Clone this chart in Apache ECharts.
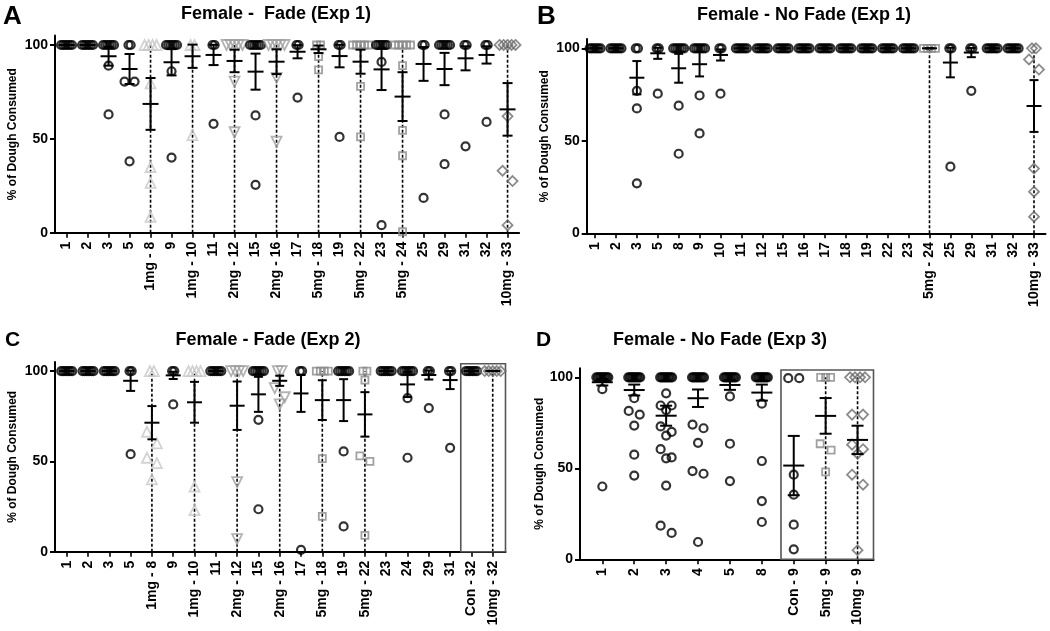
<!DOCTYPE html>
<html><head><meta charset="utf-8">
<script src="https://cdn.jsdelivr.net/npm/echarts@6/dist/echarts.min.js"></script>
<style>html,body{margin:0;padding:0;background:#fff}#c{width:1050px;height:631px}</style>
</head><body><div id="c"></div>
<script>
// ---------------- Panel A : Female - Fade (Exp 1)
const aCategories = ['1','2','3','5','1mg - 8','9','1mg - 10','11','2mg - 12','15','2mg - 16','17','5mg - 18','19','5mg - 22','23','5mg - 24','25','29','31','32','10mg - 33'];
const aPoints = [
  [100,100,100,100,100,100],
  [100,100,100,100,100,100],
  [100,100,100,100,100,100,89,63],
  [100,100,80.5,80.5,38],
  [100,100,100,100,79.5,35,26.5,8.5],
  [100,100,100,100,100,100,86,40],
  [100,100,52],
  [100,100,58],
  [100,100,100,100,100,80.5,53.5],
  [100,100,100,100,100,100,62.5,25.5],
  [100,100,100,100,100,82.5,48.5],
  [100,100,72],
  [100,100,93.8,86.7],
  [100,100,51],
  [100,100,100,100,100,78,51],
  [100,100,100,100,100,100,91,4],
  [100,100,100,100,100,89,54.5,41,0.5],
  [100,100,18.5],
  [100,100,100,100,100,100,63,36.5],
  [100,100,46],
  [100,100,59],
  [100,100,100,100,100,62,33,27.5,4]
];
const aMean = [100,100,94,87.2,68.6,90.8,94,94.7,91.5,85.8,91.1,96.4,97.7,94.1,91.1,87,72.5,89.9,87.2,92.9,94.7,65.7];
const aSem  = [0,0,5,8,13.8,7,6.2,5.4,6,9.6,6.6,3.5,2,6,6.4,11,13,9,8.6,6.4,4.6,14];

// ---------------- Panel B : Female - No Fade (Exp 1)
const bCategories = ['1','2','3','5','8','9','10','11','12','15','16','17','18','19','22','23','5mg - 24','25','29','31','32','10mg - 33'];
const bPoints = [
  [100,100,100,100,100,100],
  [100,100,100,100,100,100],
  [100,100,77,67.5,27],
  [100,100,75.5],
  [100,100,100,100,100,100,69,43],
  [100,100,100,100,100,100,74.5,54],
  [100,100,75.5],
  [100,100,100,100,100,100],
  [100,100,100,100,100,100],
  [100,100,100,100,100,100],
  [100,100,100,100,100,100],
  [100,100,100,100,100,100],
  [100,100,100,100,100,100],
  [100,100,100,100,100,100],
  [100,100,100,100,100,100],
  [100,100,100,100,100,100],
  [100,100,100,100],
  [100,100,36],
  [100,100,77],
  [100,100,100,100,100,100],
  [100,100,100,100,100,100],
  [100,100,94,88.5,35,22.5,9]
];
const bMean = [100,100,84.1,97.3,89.2,91.4,96.4,100,100,100,100,100,100,100,100,100,100,92.3,97.7,100,100,68.8];
const bSem  = [0,0,9,3,7.8,6.6,3,0,0,0,0,0,0,0,0,0,0,8,2.5,0,0,14];

// ---------------- Panel C : Female - Fade (Exp 2)
const cCategories = ['1','2','3','5','1mg - 8','9','1mg - 10','11','2mg - 12','15','2mg - 16','17','5mg - 18','19','5mg - 22','23','24','29','31','Con - 32','10mg - 32'];
const cPoints = [
  [100,100,100,100,100,100],
  [100,100,100,100,100,100],
  [100,100,100,100,100,100],
  [100,100,54],
  [100,100,66.4,60,52,49,40],
  [100,100,81.5],
  [100,100,100,100,36,23],
  [100,100,100,100,100,100],
  [100,100,100,100,38.5,7],
  [100,100,100,100,100,100,73,23.5],
  [100,100,90.5,85.5,81.5],
  [100,100,1],
  [100,100,100,100,51.5,19.5],
  [100,100,100,100,100,100,55.5,14],
  [100,100,95,53,50,9],
  [100,100,100,100,100,100],
  [100,100,100,100,100,100,85,52],
  [100,100,79.5],
  [100,100,57.5],
  [100,100,100,100,100,100],
  [100,100,100,100,100]
];
const cMean = [100,100,100,94.6,71.4,97.6,82.7,100,80.8,87.1,94.6,87.6,83.9,83.9,76,100,92.6,97.8,95,100,100];
const cSem  = [0,0,0,5.6,9.2,2,11.3,0,13.4,9.7,2.8,10.2,11,11.6,12.3,0,7,2.5,5,0,0];

// ---------------- Panel D : Female - No Fade (Exp 3)
const dCategories = ['1','2','3','4','5','8','Con - 9','5mg - 9','10mg - 9'];
const dPoints = [
  [100,100,100,100,100,100,100,100,100,93.5,40],
  [100,100,100,100,100,100,100,100,100,88.5,81.5,79.5,73.5,57.5,46],
  [100,100,100,100,100,100,100,100,100,91.2,84.5,84.5,82,73,70,68,60.5,56,55.5,40.5,18.5,14.5],
  [100,100,100,100,100,100,100,100,100,74,72,64,48.5,47,9.5],
  [100,100,100,100,100,100,100,100,100,89.5,63.5,43],
  [100,100,100,100,100,100,100,100,100,85.5,54,32,20.5],
  [99.5,99.5,46.5,35.5,19,5.5],
  [100,100,100,63.5,60,48],
  [100,100,100,100,79.5,79.5,63,60.5,58,46.5,41,5]
];
const dMean = [97.3,93,78.9,88.5,95.8,91.6,51.5,78.8,65.6];
const dSem  = [1.8,3,5.5,4.8,2.7,4.4,16.3,9.8,7.8];

const yTicks = [0,50,100];

// ---------------- layout / style
const FONT = '"Liberation Sans", Arial, Helvetica, sans-serif';
const panels = [
  {cats:aCategories, pts:aPoints, mean:aMean, sem:aSem, grid:{left:55,top:35.6,width:464.1,height:197.1}, xmin:-0.55, xmax:21.55, a:5, t:2.2, tg:4, mh:8, ch:5, gap:36, box:null},
  {cats:bCategories, pts:bPoints, mean:bMean, sem:bSem, grid:{left:586.7,top:39.05,width:458.8,height:194.25}, xmin:-0.4, xmax:21.55, a:5, t:2.2, tg:4, mh:7.5, ch:4.5, gap:36, box:null},
  {cats:cCategories, pts:cPoints, mean:cMean, sem:cSem, grid:{left:55,top:362,width:450.5,height:189.7}, xmin:-0.55, xmax:20.6, a:5, t:2.2, tg:4, mh:7.5, ch:4.5, gap:36, box:[18.5,20.6,104]},
  {cats:dCategories, pts:dPoints, mean:dMean, sem:dSem, grid:{left:580,top:368.2,width:293.5,height:191.1}, xmin:-0.7, xmax:8.5, a:5.5, t:1.5, tg:5, mh:10.5, ch:6, gap:28, box:[5.6,8.5,104]}
];

function markerFor(name){
  if (name.indexOf('10mg') === 0) return {symbol:'diamond', size:10, color:'#6e6e6e', bw:1.8, gray:true};
  if (name.indexOf('5mg') === 0)  return {symbol:'rect', size:7, color:'#8a8a8a', bw:1.8, gray:true};
  if (name.indexOf('2mg') === 0)  return {symbol:'triangle', size:10, rotate:180, color:'#a0a0a0', bw:1.8, gray:true};
  if (name.indexOf('1mg') === 0)  return {symbol:'triangle', size:10, color:'#c8c8c8', bw:1.8, gray:true};
  return {symbol:'circle', size:8, color:'#000', bw:2.2, gray:false};
}

function buildScatter(p){
  const pxCat = p.grid.width/(p.xmax-p.xmin), pxUnit = p.grid.height/105;
  const data = [];
  p.pts.forEach((vals,i)=>{
    const mk = markerFor(p.cats[i]);
    const push = (dx,v)=>data.push({value:[i+dx/pxCat, v], symbol:mk.symbol, symbolSize:mk.size, symbolRotate:mk.rotate||0,
      itemStyle:{color:'rgba(0,0,0,0)', borderColor:mk.color, borderWidth:mk.bw}});
    const full = vals.filter(v=>v===100);
    const rest = vals.filter(v=>v!==100).sort((x,y)=>y-x);
    const t = mk.gray ? p.tg : p.t;
    full.forEach((v,k)=>push((k-(full.length-1)/2)*t, v));
    let j = 0;
    while (j < rest.length){
      const row = [rest[j]]; let k = j+1;
      while (k < rest.length && (rest[j]-rest[k])*pxUnit < 11.75){ row.push(rest[k]); k++; }
      const n = row.length, m = n%2 ? n-1 : n;
      row.forEach((v,q)=>{ const dx = q<m ? (2*q-m+1)*p.a : 0; push(dx, v); });
      j = k;
    }
  });
  return data;
}

const grids=[], xAxes=[], yAxes=[], series=[];
panels.forEach((p,idx)=>{
  grids.push(Object.assign({containLabel:false, outerBoundsMode:'none'}, p.grid));
  const idxs = p.cats.map((c,i)=>i);
  xAxes.push({type:'value', gridIndex:idx, min:p.xmin, max:p.xmax,
    axisLine:{show:true, onZero:false, lineStyle:{color:'#000', width:2}},
    axisTick:{show:true, customValues:idxs, length:5, lineStyle:{color:'#000', width:1.6}},
    axisLabel:{show:true, customValues:idxs, formatter:(v)=>p.cats[Math.round(v)], rotate:90, margin:9,
      color:'#000', fontFamily:FONT, fontWeight:'bold', fontSize:14},
    splitLine:{show:false}});
  yAxes.push({type:'value', gridIndex:idx, min:0, max:105,
    name:'% of Dough Consumed', nameLocation:'middle', nameGap:p.gap,
    nameTextStyle:{color:'#000', fontFamily:FONT, fontWeight:'bold', fontSize:12},
    axisLine:{show:true, onZero:false, lineStyle:{color:'#000', width:2}},
    axisTick:{show:true, customValues:yTicks, length:5, lineStyle:{color:'#000', width:2}},
    axisLabel:{show:true, customValues:yTicks, margin:7, color:'#000', fontFamily:FONT, fontWeight:'bold', fontSize:14},
    splitLine:{show:false}});
  // dashed guide lines for drug groups
  series.push({type:'custom', xAxisIndex:idx, yAxisIndex:idx, z:1, silent:true,
    data: idxs.filter(i=>/mg/.test(p.cats[i])).map(i=>[i,100]),
    renderItem:(params,api)=>{
      const i = api.value(0);
      const p0 = api.coord([i,0]), p1 = api.coord([i,api.value(1)]);
      return {type:'line', shape:{x1:p0[0],y1:p0[1],x2:p1[0],y2:p1[1]}, style:{stroke:'#000', lineWidth:1.6, lineDash:[3,2]}};
    }});
  if (p.box){
    series.push({type:'custom', xAxisIndex:idx, yAxisIndex:idx, z:1, silent:true, data:[p.box],
      renderItem:(params,api)=>{
        const a = api.coord([api.value(0),0]), b = api.coord([api.value(1),api.value(2)]);
        return {type:'rect', shape:{x:a[0], y:b[1], width:b[0]-a[0], height:a[1]-b[1]}, style:{fill:'none', stroke:'#555', lineWidth:1.6}};
      }});
  }
  series.push({type:'scatter', xAxisIndex:idx, yAxisIndex:idx, z:2, silent:true, data:buildScatter(p)});
  series.push({type:'custom', xAxisIndex:idx, yAxisIndex:idx, z:3, silent:true,
    data: p.mean.map((m,i)=>[i,m,p.sem[i]]),
    renderItem:(params,api)=>{
      const i=api.value(0), m=api.value(1), s=api.value(2);
      const pm=api.coord([i,m]), pt=api.coord([i,m+s]), pb=api.coord([i,m-s]);
      const st={stroke:'#000', lineWidth:2};
      const x=pm[0];
      return {type:'group', children:[
        {type:'line', shape:{x1:x,y1:pt[1],x2:x,y2:pb[1]}, style:st},
        {type:'line', shape:{x1:x-p.mh,y1:pm[1],x2:x+p.mh,y2:pm[1]}, style:st},
        {type:'line', shape:{x1:x-p.ch,y1:pt[1],x2:x+p.ch,y2:pt[1]}, style:st},
        {type:'line', shape:{x1:x-p.ch,y1:pb[1],x2:x+p.ch,y2:pb[1]}, style:st}
      ]};
    }});
});

const txt = (s,x,y,size,align)=>({type:'text', silent:true, style:{text:s, x:x, y:y, textAlign:align||'center', textVerticalAlign:'middle',
  font:'bold '+size+'px '+FONT, fill:'#000'}});

const chart = echarts.init(document.getElementById('c'), null, {renderer:'canvas'});
chart.setOption({
  animation:false,
  backgroundColor:'#fff',
  grid:grids, xAxis:xAxes, yAxis:yAxes, series:series,
  graphic:[
    txt('A',3,17,26,'left'), txt('B',537,17,26,'left'), txt('C',5,340,21,'left'), txt('D',536,340,21,'left'),
    txt('Female -  Fade (Exp 1)',276,14,18), txt('Female - No Fade (Exp 1)',804,15,18),
    txt('Female - Fade (Exp 2)',268,340,18), txt('Female - No Fade (Exp 3)',720,340,18)
  ]
});
</script></body></html>
